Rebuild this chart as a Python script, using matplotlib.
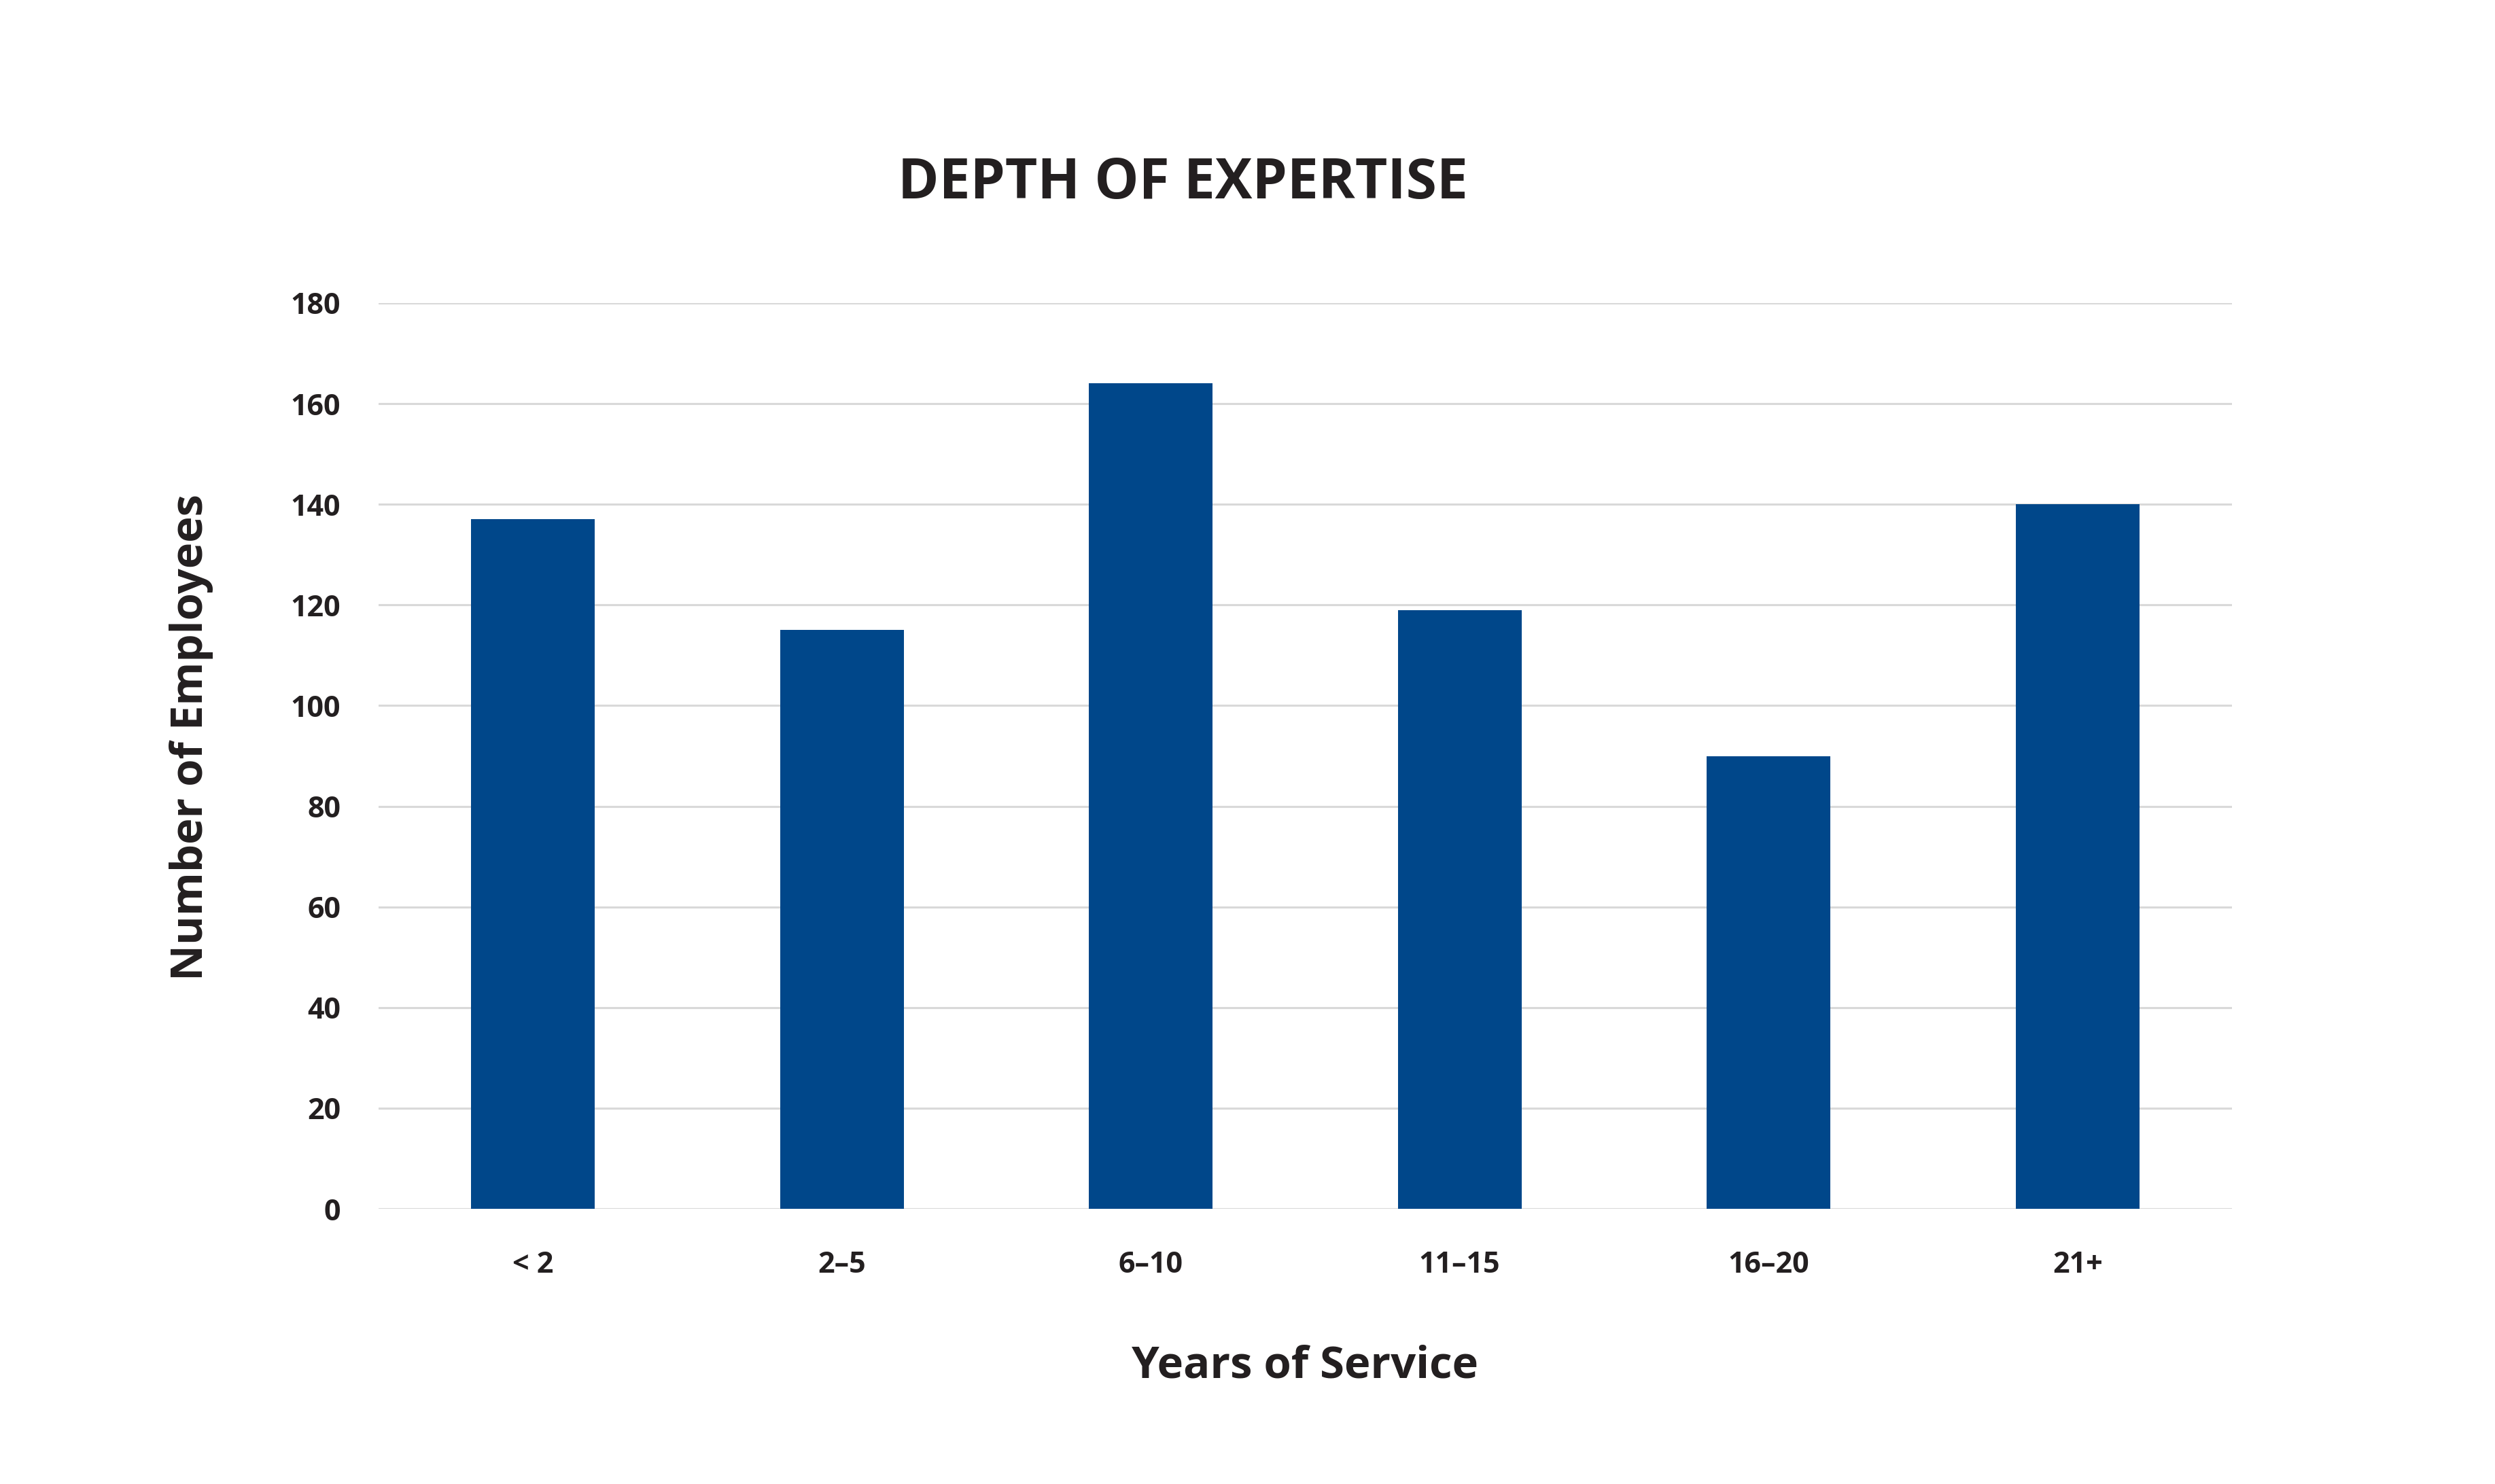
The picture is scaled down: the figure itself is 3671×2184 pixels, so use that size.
import matplotlib
matplotlib.use("Agg")
import matplotlib.pyplot as plt
from matplotlib import font_manager

categories = ["< 2", "2\u20135", "6\u201310", "11\u201315", "16\u201320", "21+"]
employees = [137, 115, 164, 119, 90, 140]
yticks = [0, 20, 40, 60, 80, 100, 120, 140, 160, 180]

names = {f.name for f in font_manager.fontManager.ttflist}
cond = [n for n in ["Open Sans", "DejaVu Sans"] if n in names]
tickfont = [n for n in ["Open Sans", "DejaVu Sans"] if n in names]

TXT = "#231f20"
BAR = "#00478a"
GRID = "#d9d9d9"

fig = plt.figure(figsize=(36.71, 21.84), dpi=100)
ax = fig.add_axes([0.1517, 0.1854, 0.8946 - 0.1517, 0.7958 - 0.1854])

x = range(len(categories))
ax.bar(x, employees, width=0.40, color=BAR, zorder=3)
ax.set_xlim(-0.5, len(categories) - 0.5)
ax.set_ylim(0, 180)
ax.set_yticks(yticks)
ax.set_xticks(list(x))
ax.set_xticklabels(categories)
ax.yaxis.grid(True, color=GRID, linewidth=2.2, zorder=0)
ax.set_axisbelow(True)
for s in ax.spines.values():
    s.set_visible(False)
ax.tick_params(axis="both", length=0, colors=TXT)
ax.tick_params(axis="x", pad=44)
ax.tick_params(axis="y", pad=40)
for lab in ax.get_xticklabels() + ax.get_yticklabels():
    lab.set_fontfamily(tickfont)
    lab.set_fontweight("bold")
    lab.set_fontsize(31)
    lab.set_color(TXT)

fig.text(0.474, 0.876, "DEPTH OF EXPERTISE", ha="center", va="center",
         fontsize=59, fontweight="bold", color=TXT, family=cond)
fig.text(0.0766, (2184 - 1085) / 2184, "Number of Employees", ha="center", va="center",
         rotation=90, fontsize=47, fontweight="bold", color=TXT, family=cond)
fig.text(0.523, 0.079, "Years of Service", ha="center", va="center",
         fontsize=47, fontweight="bold", color=TXT, family=cond)

fig.savefig("out.png", dpi=100, facecolor="white")
